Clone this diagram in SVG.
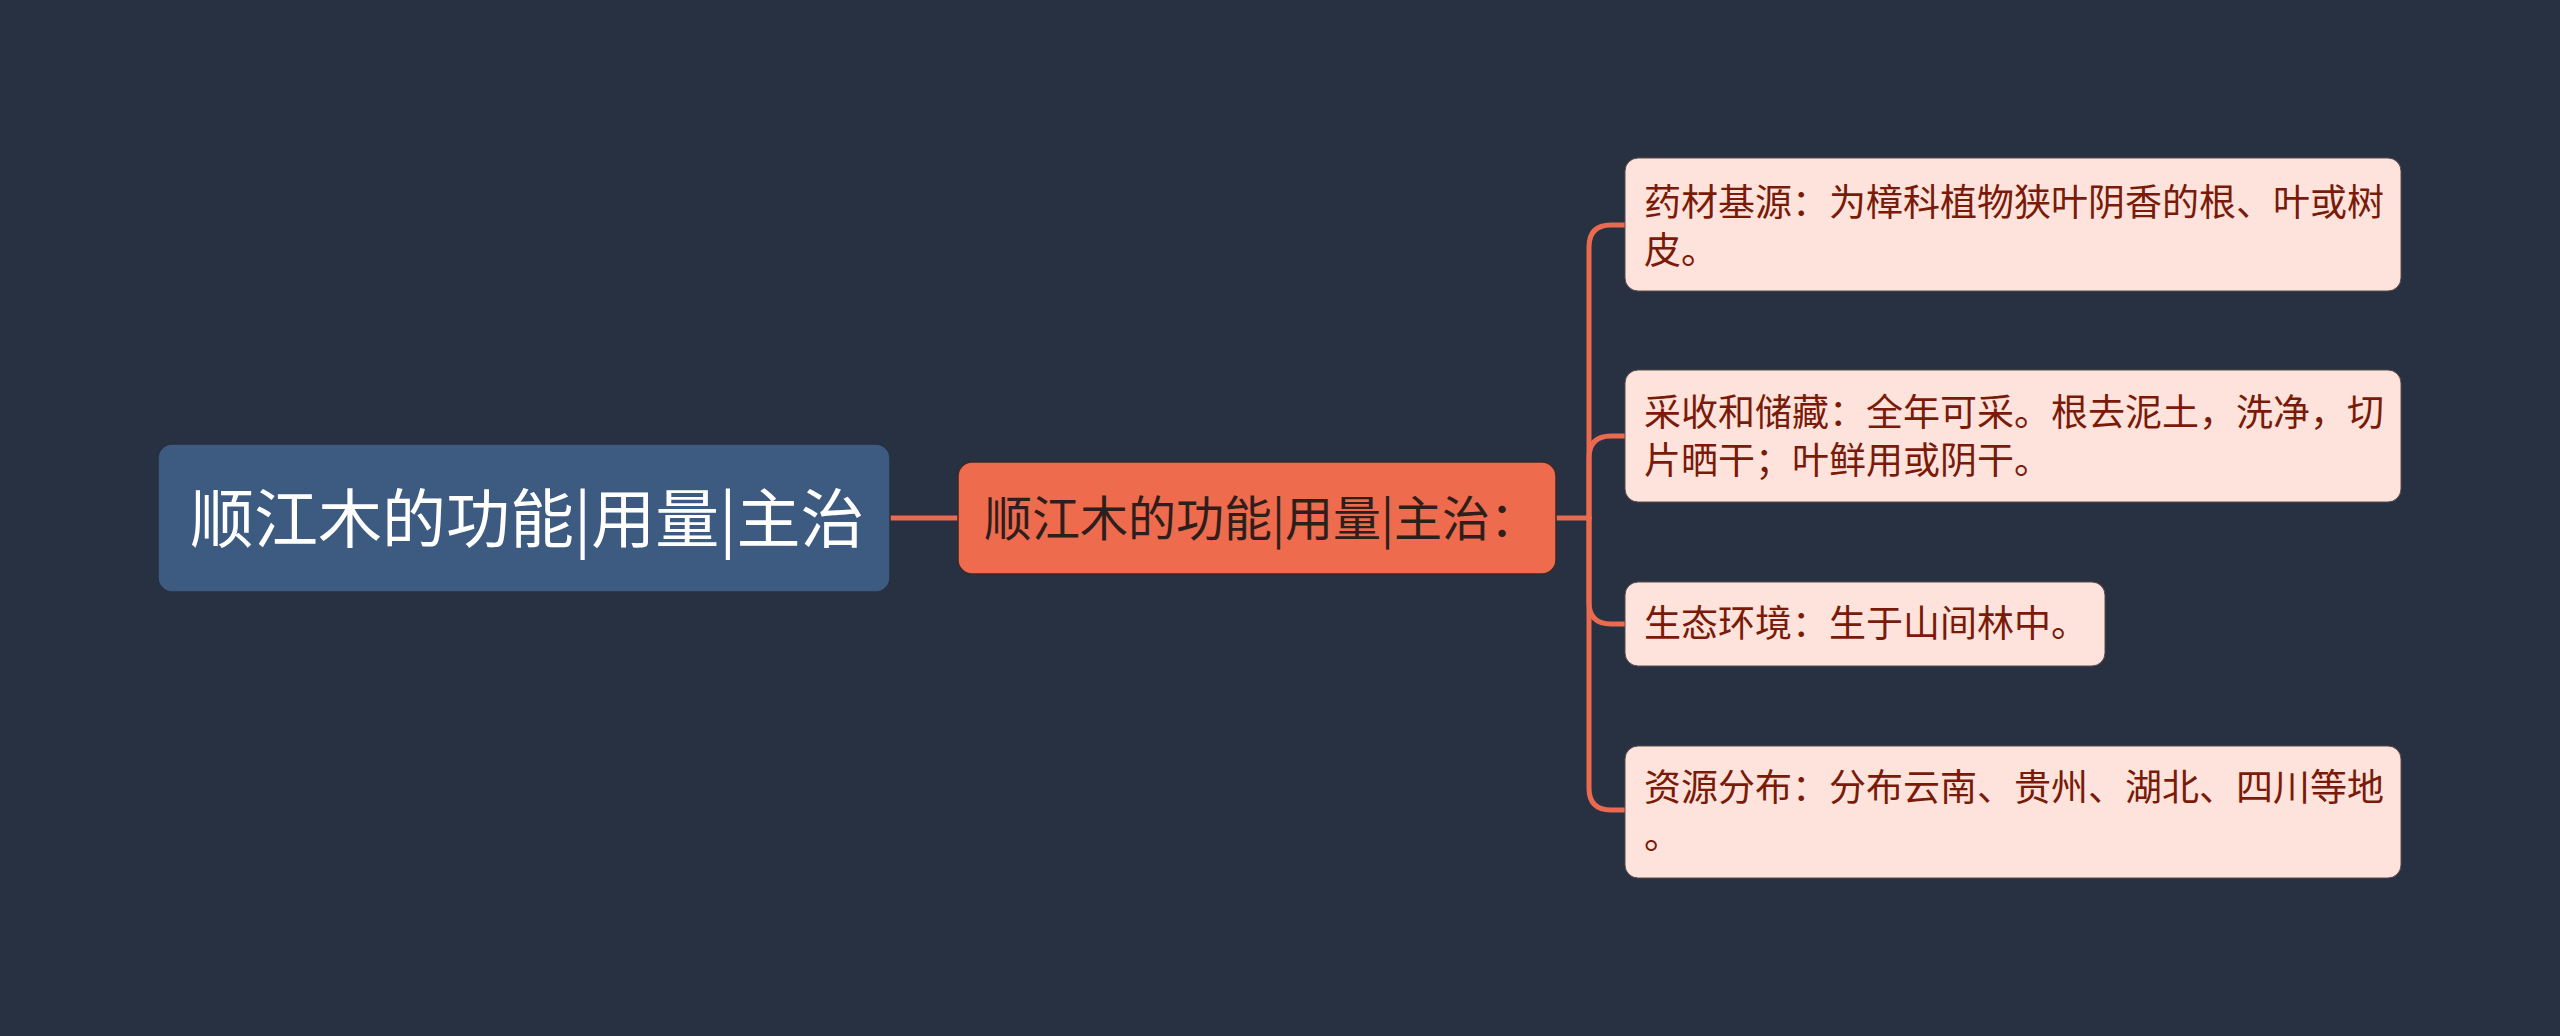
<svg xmlns="http://www.w3.org/2000/svg" width="2560" height="1036" viewBox="0 0 2560 1036">
<style>
.bg{fill:#283141}
.root rect{fill:#3d5a80;stroke:#26303f;stroke-width:1.5}
.root text{fill:#ffffff;font-size:64px}
.mid rect{fill:#ef6b4d;stroke:#3a2a2a;stroke-width:1.5}
.mid text{fill:#2e1f1c;font-size:48px}
.leaf rect{fill:#fde3dc;stroke:#5a4a4a;stroke-width:1}
.leaf text{fill:#7a1a08;font-size:37px}
text{font-family:"Noto Sans CJK SC","Noto Sans",sans-serif}
.conn path{fill:none;stroke:#ea6a4f;stroke-width:5;stroke-linecap:round}
</style>
<rect class="bg" x="0" y="0" width="2560" height="1036"/>
<g class="conn" id="connectors">
<path d="M890,518 H958"/>
<path d="M1556,518 H1589"/>
<path d="M1589,518 V247 Q1589,225 1611,225 H1625"/>
<path d="M1589,518 V458 Q1589,436 1611,436 H1625"/>
<path d="M1589,518 V602 Q1589,624 1611,624 H1625"/>
<path d="M1589,518 V788 Q1589,810 1611,810 H1625"/>
</g>
<g class="root" id="node-root">
<rect x="158" y="444" width="732" height="148" rx="14"/>
<text x="190" y="542">顺江木的功能|用量|主治</text>
</g>
<g class="mid" id="node-mid">
<rect x="958" y="462" width="598" height="112" rx="14"/>
<text x="984" y="536">顺江木的功能|用量|主治：</text>
</g>
<g class="leaf" id="node-1">
<rect x="1625" y="158" width="776" height="133" rx="13"/>
<text x="1644" y="216">药材基源：为樟科植物狭叶阴香的根、叶或树<tspan x="1644" dy="48">皮。</tspan></text>
</g>
<g class="leaf" id="node-2">
<rect x="1625" y="370" width="776" height="132" rx="13"/>
<text x="1644" y="426">采收和储藏：全年可采。根去泥土，洗净，切<tspan x="1644" dy="48">片晒干；叶鲜用或阴干。</tspan></text>
</g>
<g class="leaf" id="node-3">
<rect x="1625" y="582" width="480" height="84" rx="13"/>
<text x="1644" y="637">生态环境：生于山间林中。</text>
</g>
<g class="leaf" id="node-4">
<rect x="1625" y="746" width="776" height="132" rx="13"/>
<text x="1644" y="801">资源分布：分布云南、贵州、湖北、四川等地<tspan x="1644" dy="48">。</tspan></text>
</g>
</svg>
